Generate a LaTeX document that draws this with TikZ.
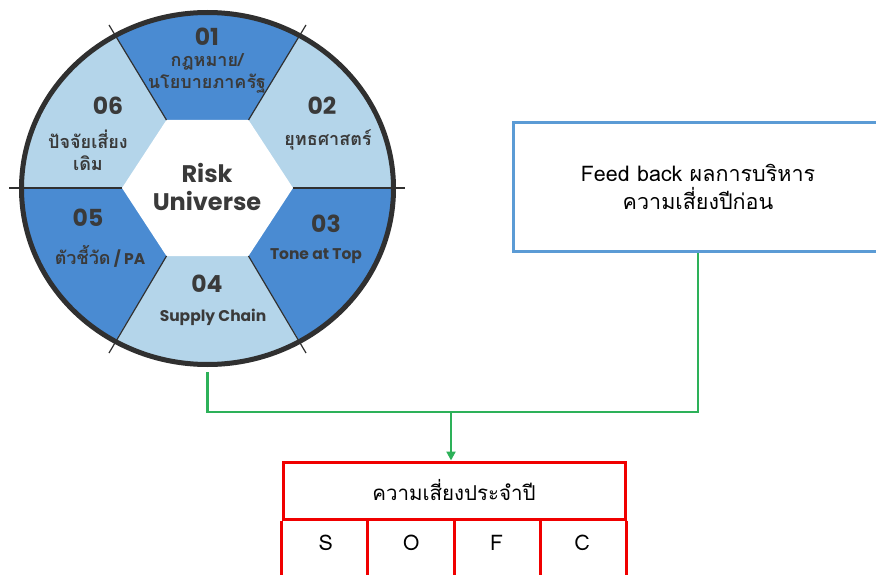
\documentclass[tikz,border=0pt]{standalone}
\usepackage{fontspec}
\usetikzlibrary{calc,shapes.geometric,arrows.meta}
\setmainfont{Loma}[Script=Thai]
\newfontfamily\thaifont[Script=Thai]{Loma}
\newfontfamily\popfont{Poppins}
\definecolor{darkblue}{HTML}{4A8BD2}
\definecolor{lightblue}{HTML}{B4D5EA}
\definecolor{ringc}{HTML}{303030}
\definecolor{txt}{HTML}{3A3A3A}
\definecolor{fbblue}{HTML}{5B9BD5}
\definecolor{conng}{HTML}{2DB159}
\definecolor{tred}{HTML}{F00000}
\begin{document}
\begin{tikzpicture}[x=1pt,y=-1pt,
  num/.style={font=\popfont\bfseries\fontsize{23.5}{24}\selectfont, text=txt, inner sep=0pt},
  lab/.style={font=\thaifont\bfseries\fontsize{18}{22}\selectfont, text=txt, inner sep=0pt, align=center},
  elab/.style={font=\popfont\bfseries\fontsize{15.5}{17}\selectfont, text=txt, inner sep=0pt},
  center/.style={font=\popfont\bfseries\fontsize{24}{28}\selectfont, text=txt, inner sep=0pt, align=center},
  ray/.style={draw=ringc, line width=1.2pt},
  conn/.style={draw=conng, line width=2.2pt},
  tline/.style={draw=tred, line width=3pt},
  plain/.style={font=\thaifont\fontsize{21.5}{28}\selectfont, text=black, inner sep=0pt, align=center}
]
\useasboundingbox (0,0) rectangle (876,575);
\clip (0,0) rectangle (876,575);

% geometry of the wheel
\coordinate (c) at (207.5,188);
\coordinate (h0) at (122,188);
\coordinate (h1) at (166.5,120);
\coordinate (h2) at (248.5,120);
\coordinate (h3) at (293,188);
\coordinate (h4) at (248.5,256);
\coordinate (h5) at (166.5,256);
\coordinate (e0) at (9,188);
\coordinate (e1) at (109,25);
\coordinate (e2) at (306,25);
\coordinate (e3) at (405,188);
\coordinate (e4) at (306,353);
\coordinate (e5) at (109,353);

\begin{scope}
  \clip (207.5,188.5) ellipse [x radius=186pt, y radius=176pt];
  \fill[lightblue] (0,0) rectangle (420,380);
  \fill[darkblue] (c) -- ($(c)!3!(h1)$) -- ($(c)!3!(h2)$) -- cycle;
  \fill[darkblue] (c) -- ($(c)!3!(h3)$) -- ($(c)!3!(h4)$) -- cycle;
  \fill[darkblue] (c) -- ($(c)!3!(h5)$) -- ($(c)!3!(h0)$) -- cycle;
\end{scope}
\fill[white] (h0) -- (h1) -- (h2) -- (h3) -- (h4) -- (h5) -- cycle;
\draw[ray] (h0) -- (e0);
\draw[ray] (h1) -- (e1);
\draw[ray] (h2) -- (e2);
\draw[ray] (h3) -- (e3);
\draw[ray] (h4) -- (e4);
\draw[ray] (h5) -- (e5);
\node[ellipse, draw=ringc, line width=5pt, minimum width=372pt, minimum height=352pt, inner sep=0pt] (wheel) at (207.5,188.5) {};

% wheel texts
\node[num] (n01) at (207,37) {01};
\node[lab] (l01) at (207,73) {กฎหมาย/\\นโยบายภาครัฐ};
\node[num] (n02) at (322,106) {02};
\node[lab] (l02) at (328,140) {ยุทธศาสตร์};
\node[num] (n03) at (326,224) {03};
\node[elab] (l03) at (316,256) {Tone at Top};
\node[num] (n04) at (207,284) {04};
\node[elab] (l04) at (213,317) {Supply Chain};
\node[num] (n05) at (88,218) {05};
\node[elab] (l05) at (100,256) {{\thaifont\fontsize{18}{18}\selectfont ตัวชี้วัด} / PA};
\node[num] (n06) at (108,106) {06};
\node[lab] (l06) at (88,150) {ปัจจัยเสี่ยง\\เดิม};
\node[center] (ru) at (207,187) {Risk\\Universe};

% feedback box
\node[draw=fbblue, line width=3pt, minimum width=370pt, minimum height=129pt, plain] (fb) at (698,187) {Feed back ผลการบริหาร\\ความเสี่ยงปีก่อน};

% table
\node[draw=tred, line width=3pt, minimum width=342pt, minimum height=57pt, plain, font=\thaifont\fontsize{20.5}{26}\selectfont] (hdr) at (454,490.5) {ความเสี่ยงประจำปี};
\draw[tline] (hdr.south west) -- ++(0,80);
\draw[tline] ($(hdr.south west)!0.25!(hdr.south east)$) -- ++(0,80);
\draw[tline] ($(hdr.south west)!0.5!(hdr.south east)$) -- ++(0,80);
\draw[tline] ($(hdr.south west)!0.75!(hdr.south east)$) -- ++(0,80);
\draw[tline] (hdr.south east) -- ++(0,80);
\node[plain] (cS) at (325.75,543) {S};
\node[plain] (cO) at (411.25,543) {O};
\node[plain] (cF) at (496.75,543) {F};
\node[plain] (cC) at (582.25,543) {C};

% connectors
\coordinate (join) at (451,412);
\draw[conn] ([yshift=-5pt]wheel.south) |- (join) -| (fb.south);
\draw[conn, -{Triangle[length=9pt,width=9pt]}] (join) -- (join |- hdr.north);
\end{tikzpicture}
\end{document}
